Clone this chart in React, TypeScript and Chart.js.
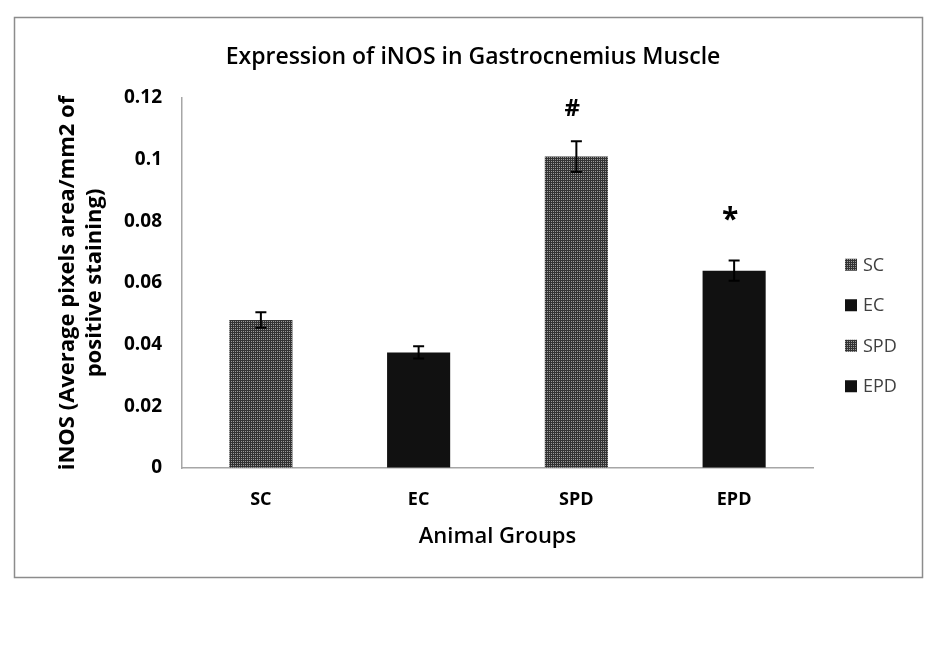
import React, { useEffect, useRef } from 'react';
import { Chart, registerables } from 'chart.js';

Chart.register(...registerables);

// ---- data ----
const groups = ['SC', 'EC', 'SPD', 'EPD'];
const means = [0.048, 0.0375, 0.101, 0.064];
const errors = [0.0025, 0.002, 0.005, 0.0033];
const markerText = ['', '', '#', '*'];
const markerValues: (number | null)[] = [null, null, 0.1168, 0.0827];
const fillKinds = ['pattern', 'solid', 'pattern', 'solid'];
const yMin = 0;
const yMax = 0.12;
const yStep = 0.02;
const titleText = 'Expression of iNOS in Gastrocnemius Muscle';
const yTitle = ['iNOS (Average pixels area/mm2 of', 'positive staining)'];
const xTitle = 'Animal Groups';

const FONT = '"Open Sans", "Noto Sans", sans-serif';

function makePattern(): CanvasPattern | string {
  const c = document.createElement('canvas');
  c.width = 2;
  c.height = 2;
  const g = c.getContext('2d');
  if (!g) return '#4c4c4c';
  g.fillStyle = '#333333';
  g.fillRect(0, 0, 2, 2);
  g.fillStyle = '#9a9a9a';
  g.fillRect(1, 1, 1, 1);
  const p = g.createPattern(c, 'repeat');
  return p || '#4c4c4c';
}

const framePlugin = {
  id: 'frame',
  beforeDraw(chart: any) {
    const { ctx, width, height } = chart;
    ctx.save();
    ctx.fillStyle = '#ffffff';
    ctx.fillRect(0, 0, width, height);
    ctx.strokeStyle = '#8c8c8c';
    ctx.lineWidth = 1.5;
    ctx.strokeRect(14.5, 17.5, 908, 560);
    ctx.restore();
  },
};

const errorPlugin = {
  id: 'errorBars',
  afterDatasetsDraw(chart: any) {
    const { ctx } = chart;
    const y = chart.scales.y;
    ctx.save();
    ctx.strokeStyle = '#000000';
    ctx.lineWidth = 2;
    groups.forEach((_, i) => {
      const el = chart.getDatasetMeta(i).data[i];
      if (!el) return;
      const x = el.x;
      const top = y.getPixelForValue(means[i] + errors[i]);
      const bot = y.getPixelForValue(means[i] - errors[i]);
      ctx.beginPath();
      ctx.moveTo(x, top);
      ctx.lineTo(x, bot);
      ctx.moveTo(x - 5.5, top);
      ctx.lineTo(x + 5.5, top);
      ctx.moveTo(x - 5.5, bot);
      ctx.lineTo(x + 5.5, bot);
      ctx.stroke();
    });
    // significance markers
    groups.forEach((_, i) => {
      const v = markerValues[i];
      const t = markerText[i];
      if (v == null || !t) return;
      const el = chart.getDatasetMeta(i).data[i];
      const cy = y.getPixelForValue(v);
      ctx.font = `bold ${t === '*' ? 30 : 24}px ${FONT}`;
      ctx.fillStyle = '#000000';
      ctx.textAlign = 'center';
      ctx.textBaseline = 'alphabetic';
      const m = ctx.measureText(t);
      const base = cy + m.actualBoundingBoxAscent - (m.actualBoundingBoxAscent + m.actualBoundingBoxDescent) / 2;
      ctx.fillText(t, el.x - 4, base);
    });
    ctx.restore();
  },
};

const legendPlugin = {
  id: 'sideLegend',
  afterDraw(chart: any) {
    const { ctx, chartArea } = chart;
    const ds = chart.data.datasets;
    const n = ds.length;
    const spacing = 40.5;
    const cy = chart.height / 2;
    const x0 = chartArea.right + 32;
    ctx.save();
    ctx.font = `18px ${FONT}`;
    ctx.textBaseline = 'middle';
    ctx.textAlign = 'left';
    ds.forEach((d: any, i: number) => {
      const yy = cy + (i - (n - 1) / 2) * spacing;
      ctx.fillStyle = d.backgroundColor;
      ctx.fillRect(x0, yy - 6, 12, 12);
      ctx.fillStyle = '#404040';
      ctx.fillText(d.label, x0 + 18, yy + 1);
    });
    ctx.restore();
  },
};

export default function App() {
  const ref = useRef<HTMLCanvasElement | null>(null);

  useEffect(() => {
    if (!ref.current) return;
    const pattern = makePattern();
    const fills = fillKinds.map((k) => (k === 'pattern' ? pattern : '#111111'));
    const chart = new Chart(ref.current, {
      type: 'bar',
      data: {
        labels: groups,
        datasets: groups.map((g, i) => ({
          label: g,
          data: groups.map((_, j) => (j === i ? means[i] : null)),
          backgroundColor: fills[i] as any,
          borderWidth: 0,
          grouped: false,
          barPercentage: 0.4,
          categoryPercentage: 1,
          yAxisID: 'y',
        })) as any,
      },
      options: {
        animation: false,
        responsive: false,
        devicePixelRatio: 1,
        layout: { padding: { top: 10, bottom: 10, left: 20, right: 19 } },
        plugins: {
          legend: { display: false },
          tooltip: { enabled: false },
          title: {
            display: true,
            text: titleText,
            color: '#000000',
            font: { family: FONT, size: 23, weight: '600', lineHeight: 1.2 },
            padding: { top: 33.2, bottom: 27.2 },
          },
        },
        scales: {
          x: {
            afterFit(scale: any) {
              scale.height = 173;
            },
            grid: { display: true, color: 'rgba(0,0,0,0)', drawTicks: false },
            border: { display: true, color: '#a6a6a6', width: 1.5 },
            ticks: {
              color: '#000000',
              padding: 21.2,
              font: { family: FONT, size: 18, weight: 'bold', lineHeight: 1.2 },
            },
            title: {
              display: true,
              text: xTitle,
              color: '#000000',
              font: { family: FONT, size: 22, weight: '600', lineHeight: 1.2 },
              padding: { top: 13, bottom: 90.8 },
            },
          },
          y: {
            min: yMin,
            max: yMax,
            afterFit(scale: any) {
              scale.width = 162;
            },
            grid: { display: true, color: 'rgba(0,0,0,0)', drawTicks: false },
            border: { display: true, color: '#a6a6a6', width: 1.5 },
            ticks: {
              stepSize: yStep,
              color: '#000000',
              padding: 20,
              font: { family: FONT, size: 19, weight: 'bold', lineHeight: 1.2 },
              callback: (v: any) => String(Number(Number(v).toFixed(4))),
            },
            title: {
              display: true,
              text: yTitle,
              color: '#000000',
              font: { family: FONT, size: 22, weight: 'bold', lineHeight: 27 / 22 },
              padding: { top: 34.5, bottom: 0 },
            },
          },
          // reserves room on the right for the side legend
          legendSpace: {
            type: 'linear',
            position: 'right',
            display: true,
            afterFit(scale: any) {
              scale.width = 113;
            },
            grid: { display: false, drawTicks: false },
            border: { display: false },
            ticks: { display: false },
          },
        },
      } as any,
      plugins: [framePlugin, errorPlugin, legendPlugin],
    });
    return () => chart.destroy();
  }, []);

  return (
    <div style={{ position: 'fixed', left: 0, top: 0, width: 945, height: 651, background: '#fff' }}>
      <canvas ref={ref} width={945} height={651} style={{ display: 'block', width: 945, height: 651 }} />
    </div>
  );
}
